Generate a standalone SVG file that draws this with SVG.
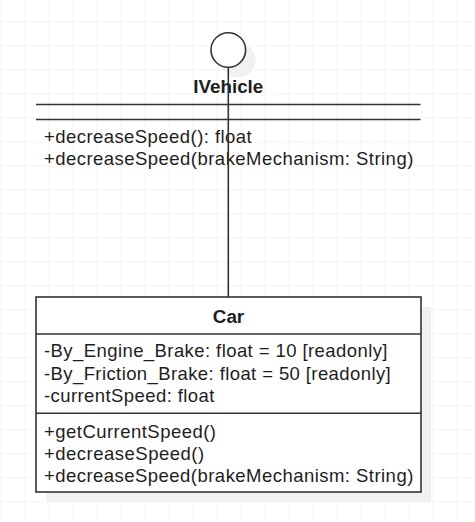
<svg xmlns="http://www.w3.org/2000/svg" width="475" height="522" viewBox="0 0 475 522">
  <defs>
    <pattern id="grid" x="0.5" y="21.5" width="24" height="24" patternUnits="userSpaceOnUse">
      <path d="M0 0 V24 M0 0 H24" fill="none" stroke="#ebebeb" stroke-width="1"/>
    </pattern>
  </defs>
  <style>
    .ln { stroke: #333333; stroke-width: 1.6; fill: none; }
    .box { stroke: #333333; stroke-width: 1.6; fill: #ffffff; }
    .shadow { fill: #f1f1f1; stroke: none; }
    .t { font-family: "Liberation Sans", Arial, sans-serif; font-size: 18.5px; fill: #1e1e1e; }
    .b { font-family: "Liberation Sans", Arial, sans-serif; font-size: 18.8px; font-weight: bold; fill: #1e1e1e; text-anchor: middle; }
  </style>
  <rect width="475" height="522" fill="#ffffff"/>
  <rect x="0" y="0" width="475" height="522" fill="url(#grid)"/>

  <g id="ivehicle">
    <circle class="shadow" cx="238.3" cy="60" r="17.3"/>
    <circle class="box" cx="228.3" cy="50" r="17.3"/>
    <text class="b" x="228.3" y="92.7">IVehicle</text>
    <line class="ln" x1="36" y1="104.5" x2="420.5" y2="104.5"/>
    <line class="ln" x1="36" y1="119.5" x2="420.5" y2="119.5"/>
    <text class="t" x="44" y="143" textLength="207.6" lengthAdjust="spacing">+decreaseSpeed(): float</text>
    <text class="t" x="44" y="165" textLength="369.3" lengthAdjust="spacing">+decreaseSpeed(brakeMechanism: String)</text>
  </g>

  <g id="car">
    <rect class="shadow" x="46" y="307" width="385" height="195"/>
    <rect class="box" x="36" y="297" width="385" height="195"/>
    <text class="b" x="228.5" y="322.5">Car</text>
    <line class="ln" x1="36" y1="334" x2="421" y2="334"/>
    <line class="ln" x1="36" y1="413.3" x2="421" y2="413.3"/>
    <text class="t" x="44" y="357" textLength="343.5" lengthAdjust="spacing">-By_Engine_Brake: float = 10 [readonly]</text>
    <text class="t" x="44" y="379.5" textLength="346.7" lengthAdjust="spacing">-By_Friction_Brake: float = 50 [readonly]</text>
    <text class="t" x="44" y="401.7" textLength="170.4" lengthAdjust="spacing">-currentSpeed: float</text>
    <text class="t" x="44" y="438.3" textLength="172" lengthAdjust="spacing">+getCurrentSpeed()</text>
    <text class="t" x="44" y="460" textLength="160.1" lengthAdjust="spacing">+decreaseSpeed()</text>
    <text class="t" x="44" y="482" textLength="369.3" lengthAdjust="spacing">+decreaseSpeed(brakeMechanism: String)</text>
  </g>

  <g id="connectors">
    <line class="ln" x1="228.3" y1="67.3" x2="228.3" y2="297"/>
  </g>
</svg>
